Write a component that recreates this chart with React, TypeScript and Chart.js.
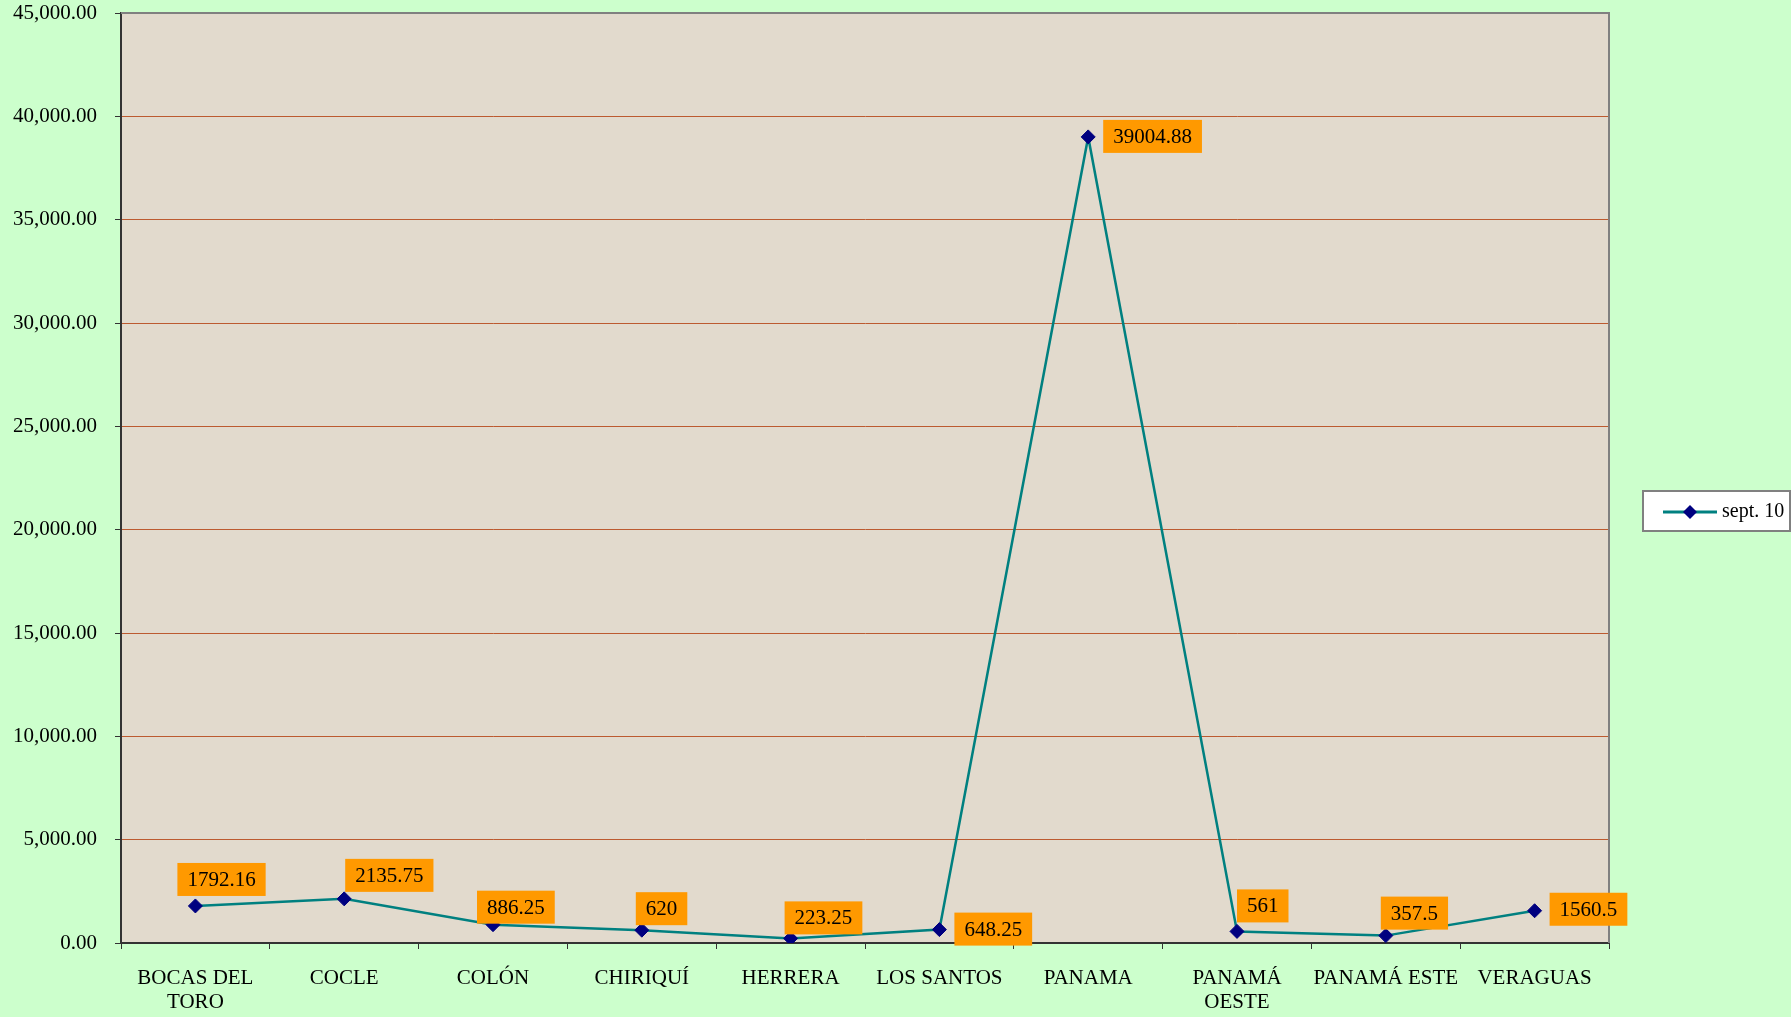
import React, { useEffect, useRef } from 'react';
import { Chart, registerables } from 'chart.js';

Chart.register(...registerables);

const categories: (string | string[])[] = [
  ['BOCAS DEL', 'TORO'],
  'COCLE',
  'COLÓN',
  'CHIRIQUÍ',
  'HERRERA',
  'LOS SANTOS',
  'PANAMA',
  ['PANAMÁ', 'OESTE'],
  'PANAMÁ ESTE',
  'VERAGUAS',
];
const values = [1792.16, 2135.75, 886.25, 620, 223.25, 648.25, 39004.88, 561, 357.5, 1560.5];
const seriesName = 'sept. 10';
const yMin = 0;
const yMax = 45000;
const yStep = 5000;

const FONT = "'Liberation Serif', 'Times New Roman', serif";

// label box offsets (top-left of box relative to the point)
const labelOffsets: [number, number][] = [
  [-18, -43], [1, -40], [-16, -34], [-6, -38], [-6, -37],
  [15, -17], [15, -17], [0, -42], [-5, -39], [15, -18],
];

const decorPlugin = {
  id: 'decor',
  beforeDraw(chart: any) {
    const { ctx, chartArea: a } = chart;
    ctx.save();
    ctx.fillStyle = '#CCFFCC';
    ctx.fillRect(0, 0, chart.width, chart.height);
    ctx.fillStyle = '#E2DACD';
    ctx.fillRect(a.left, a.top, a.right - a.left, a.bottom - a.top);
    ctx.restore();
  },
  beforeDatasetsDraw(chart: any) {
    const { ctx, chartArea: a } = chart;
    ctx.save();
    ctx.strokeStyle = '#808080';
    ctx.lineWidth = 2;
    ctx.beginPath();
    ctx.moveTo(a.left, a.top);
    ctx.lineTo(a.right, a.top);
    ctx.lineTo(a.right, a.bottom);
    ctx.stroke();
    ctx.restore();
  },
  afterDatasetsDraw(chart: any) {
    const { ctx } = chart;
    const meta = chart.getDatasetMeta(0);
    const ds = chart.data.datasets[0];
    ctx.save();
    ctx.font = `21px ${FONT}`;
    ctx.textBaseline = 'middle';
    ctx.textAlign = 'left';
    meta.data.forEach((pt: any, i: number) => {
      const text = String(ds.data[i]);
      const w = ctx.measureText(text).width + 20;
      const h = 33;
      const [dx, dy] = labelOffsets[i];
      const x = pt.x + dx;
      const y = pt.y + dy;
      ctx.fillStyle = '#FF9900';
      ctx.fillRect(x, y, w, h);
      ctx.fillStyle = '#000000';
      ctx.fillText(text, x + 10, y + h / 2 + 1);
    });
    // legend
    const lx = 1643, ly = 491, lw = 147, lh = 40;
    ctx.fillStyle = '#FFFFFF';
    ctx.fillRect(lx, ly, lw, lh);
    ctx.strokeStyle = '#808080';
    ctx.lineWidth = 2;
    ctx.strokeRect(lx, ly, lw, lh);
    const cy = ly + lh / 2 + 1;
    ctx.strokeStyle = '#008080';
    ctx.lineWidth = 3;
    ctx.beginPath();
    ctx.moveTo(1663, cy);
    ctx.lineTo(1717, cy);
    ctx.stroke();
    ctx.fillStyle = '#000080';
    ctx.beginPath();
    ctx.moveTo(1690, cy - 7);
    ctx.lineTo(1697, cy);
    ctx.lineTo(1690, cy + 7);
    ctx.lineTo(1683, cy);
    ctx.closePath();
    ctx.fill();
    ctx.fillStyle = '#000000';
    ctx.font = `20px ${FONT}`;
    ctx.fillText(ds.label, 1722, cy);
    ctx.restore();
  },
};

export default function App() {
  const ref = useRef<HTMLCanvasElement>(null);
  useEffect(() => {
    if (!ref.current) return;
    const chart = new Chart(ref.current, {
      type: 'line',
      data: {
        labels: categories as any,
        datasets: [
          {
            label: seriesName,
            data: values,
            borderColor: '#008080',
            borderWidth: 2.5,
            tension: 0,
            pointStyle: 'rectRot',
            pointRadius: 7,
            pointBackgroundColor: '#000080',
            pointBorderColor: '#000080',
            pointBorderWidth: 1,
            fill: false,
          },
        ],
      },
      options: {
        animation: false,
        responsive: false,
        devicePixelRatio: 1,
        layout: { padding: { top: 13, right: 182, left: 0, bottom: 0 } },
        plugins: {
          legend: { display: false },
          tooltip: { enabled: false },
        },
        scales: {
          x: {
            offset: true,
            grid: {
              offset: true,
              drawOnChartArea: false,
              drawTicks: true,
              tickLength: 6,
              tickColor: '#333333',
            },
            border: { color: '#333333', width: 2 },
            ticks: {
              color: '#000000',
              font: { family: FONT, size: 21, lineHeight: 1.15 },
              padding: 17,
              maxRotation: 0,
              autoSkip: false,
            },
            afterFit: (s: any) => {
              s.height = 74;
              s.paddingLeft = 0;
              s.paddingRight = 0;
            },
          },
          y: {
            min: yMin,
            max: yMax,
            grid: {
              color: '#BC5A30',
              lineWidth: 1,
              tickLength: 6,
              tickColor: '#333333',
            },
            border: { color: '#333333', width: 2 },
            ticks: {
              stepSize: yStep,
              color: '#000000',
              font: { family: FONT, size: 21 },
              padding: 18,
              callback: (v: any) =>
                Number(v).toLocaleString('en-US', { minimumFractionDigits: 2, maximumFractionDigits: 2 }),
            },
            afterFit: (s: any) => {
              s.width = 121;
              s.paddingTop = 0;
              s.paddingBottom = 0;
            },
          },
        },
      },
      plugins: [decorPlugin],
    });
    return () => chart.destroy();
  }, []);
  return (
    <div style={{ position: 'fixed', left: 0, top: 0, width: 1791, height: 1017, background: '#CCFFCC' }}>
      <canvas ref={ref} width={1791} height={1017} style={{ width: 1791, height: 1017, display: 'block' }} />
    </div>
  );
}
